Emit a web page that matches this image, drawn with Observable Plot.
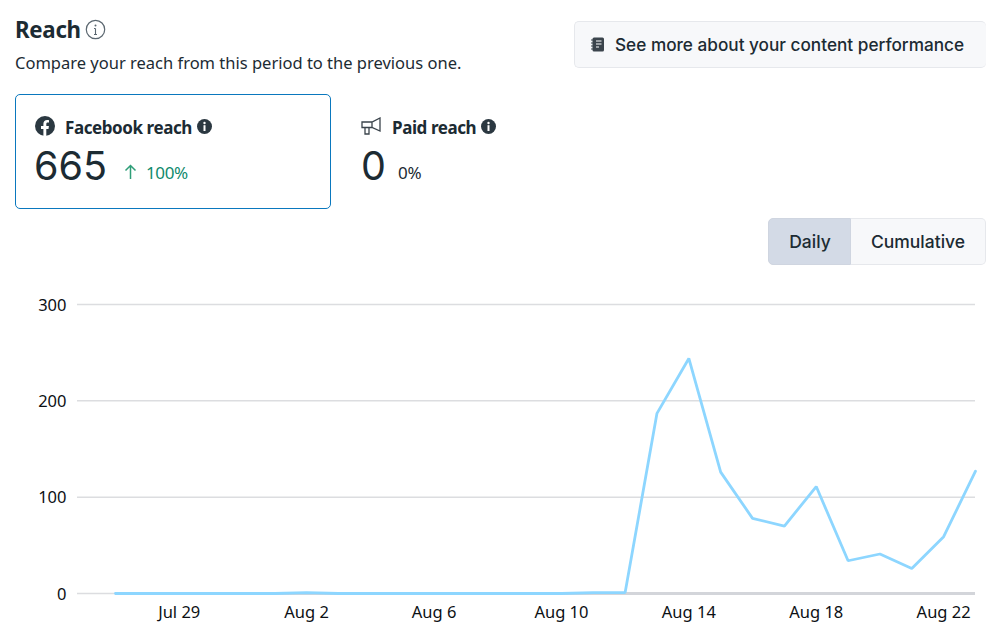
<!DOCTYPE html>
<html><head><meta charset="utf-8">
<script src="https://cdn.jsdelivr.net/npm/d3@7"></script>
<script src="https://cdn.jsdelivr.net/npm/@observablehq/plot@0.6"></script>
<style>
html,body{margin:0;padding:0;background:#fff;overflow:hidden}
body{width:1005px;height:641px;color:#1c2b33;font-family:"Noto Sans",sans-serif;position:relative}
#head{position:relative;height:270px;width:1005px}
#head>*{position:absolute;white-space:nowrap}
#chart{position:absolute;left:0;top:270px}
.ui{font-family:Inter,sans-serif;font-weight:500}
.btn{background:#f7f8fa;border:1px solid #e6e8ec;box-sizing:border-box}
</style></head><body>
<div id="head">
  <div style="left:15px;top:15px;font:700 22.300px/30px 'Noto Sans',sans-serif;letter-spacing:-.3px">Reach</div>
  <svg style="left:85px;top:19px" width="21" height="21" viewBox="0 0 21 21"><circle cx="10.5" cy="10.5" r="9.2" fill="none" stroke="#5b6770" stroke-width="1.2"/><circle cx="10.5" cy="6.6" r="1" fill="#5b6770"/><path d="M10.5 9.5v6M9 9.5h1.5M9 15.5h3" stroke="#5b6770" stroke-width="1.1" fill="none"/></svg>
  <div style="left:15px;top:51px;font:400 16.5px/24px 'Noto Sans',sans-serif">Compare your reach from this period to the previous one.</div>

  <div class="btn ui" style="left:574px;top:21px;width:412px;height:47px;border-right:0;border-radius:5px;font-size:17.200px;line-height:46px;padding-left:40px">See more about your content performance</div>
  <svg style="left:591px;top:37px" width="14" height="15" viewBox="0 0 14 15"><rect x="1.5" y="0.5" width="11.5" height="14" rx="1.5" fill="#3b444c"/><path d="M5 4h5.5M5 7h5.5M5 10h3" stroke="#fff" stroke-width="1"/><path d="M0 3h2.5M0 6h2.5M0 9h2.5M0 12h2.5" stroke="#3b444c" stroke-width="1.1"/></svg>

  <div style="left:15px;top:94px;width:316px;height:115px;box-sizing:border-box;border:1px solid #0a78be;border-bottom-width:1.5px;border-radius:5px"></div>
  <svg style="left:35px;top:116px" width="20" height="20" viewBox="0 0 20 20"><circle cx="10" cy="10" r="10" fill="#2b3841"/><path d="M8.4 20v-7H6v-3h2.4V7.8c0-2.500 1.500-3.800 3.700-3.800 1 0 1.900.2 1.900.2v2.400h-1.200c-1.200 0-1.500.7-1.500 1.500V10h2.600l-.4 3h-2.200v7z" fill="#fff"/></svg>
  <div style="left:65px;top:115px;font:700 17px/25px 'Noto Sans',sans-serif;letter-spacing:-.42px">Facebook reach</div>
  <svg style="left:197px;top:119px" width="15" height="15" viewBox="0 0 15 15"><circle cx="7.500" cy="7.500" r="7.500" fill="#2b3841"/><circle cx="7.500" cy="4" r="1.200" fill="#fff"/><rect x="6.500" y="6.200" width="2" height="5.800" fill="#fff"/></svg>
  <div style="left:34px;top:139px;font:400 39.500px/54px Inter,sans-serif">665</div>
  <svg style="left:123px;top:164px" width="15" height="16" viewBox="0 0 15 16"><path d="M7.500 15V1.500M2.500 6.500l5-5 5 5" fill="none" stroke="#2f9e78" stroke-width="1.500"/></svg>
  <div style="left:146px;top:161px;font:400 17px/24px 'Noto Sans',sans-serif;letter-spacing:-.35px;color:#0f8a6d">100%</div>

  <svg style="left:361px;top:117px" width="21" height="19" viewBox="0 0 21 19"><path d="M1 5h10l8-4v13l-8-3.500H1zM4 10.500V17h4v-6.500M11 5v5.500" fill="none" stroke="#3b444c" stroke-width="1.300"/></svg>
  <div style="left:392px;top:115px;font:700 17px/25px 'Noto Sans',sans-serif;letter-spacing:-.42px">Paid reach</div>
  <svg style="left:481px;top:119px" width="15" height="15" viewBox="0 0 15 15"><circle cx="7.500" cy="7.500" r="7.500" fill="#2b3841"/><circle cx="7.500" cy="4" r="1.200" fill="#fff"/><rect x="6.500" y="6.200" width="2" height="5.800" fill="#fff"/></svg>
  <div style="left:361px;top:139px;font:400 39.500px/54px Inter,sans-serif">0</div>
  <div style="left:398px;top:161px;font:400 17px/24px 'Noto Sans',sans-serif;letter-spacing:-.3px">0%</div>

  <div class="ui" style="left:768px;top:218px;width:83px;height:47px;box-sizing:border-box;background:#d3dae6;border:1px solid #cfd5e0;border-radius:5px 0 0 5px;font-size:17.500px;line-height:46px;text-align:center;padding-left:1px">Daily</div>
  <div class="btn ui" style="left:851px;top:218px;width:135px;height:47px;border-left:0;border-radius:0 5px 5px 0;font-size:17.500px;line-height:46px;text-align:center">Cumulative</div>
</div>
<div id="chart"></div>
<script>
const days = ["2023-07-27","2023-07-28","2023-07-29","2023-07-30","2023-07-31","2023-08-01","2023-08-02","2023-08-03","2023-08-04","2023-08-05","2023-08-06","2023-08-07","2023-08-08","2023-08-09","2023-08-10","2023-08-11","2023-08-12","2023-08-13","2023-08-14","2023-08-15","2023-08-16","2023-08-17","2023-08-18","2023-08-19","2023-08-20","2023-08-21","2023-08-22","2023-08-23"];
const reach = [0,0,0,0,0,0,1,0,0,0,0,0,0,0,0,1,1,187,244,126,78,70,111,34,41,26,59,127];
const xTicks = ["2023-07-29","2023-08-02","2023-08-06","2023-08-10","2023-08-14","2023-08-18","2023-08-22"];
const yTicks = [0,100,200,300];
const table = days.map((d,i)=>({date:new Date(d+"T00:00:00Z"),value:reach[i]}));
const plot = Plot.plot({
  width:1005,height:371,
  marginLeft:115,marginRight:30,marginTop:34,marginBottom:48,
  style:{fontFamily:"'Noto Sans',sans-serif",fontSize:"16.5px",color:"#0c1014",background:"#fff"},
  x:{type:"utc",domain:[table[0].date,table[table.length-1].date]},
  y:{domain:[0,300]},
  marks:[
    Plot.ruleY(yTicks,{stroke:"#dcdde0",strokeWidth:1.5,insetLeft:-38}),
    Plot.ruleY([0],{stroke:"#d3d5da",strokeWidth:3}),
    Plot.axisX({ticks:xTicks.map(d=>new Date(d+"T00:00:00Z")),tickFormat:d3.utcFormat("%b %-d"),tickSize:0,tickPadding:12.5,label:null,fontSize:16.5}),
    Plot.axisY({ticks:yTicks,tickSize:0,tickPadding:49,label:null,fontSize:16.5,dy:1}),
    Plot.line(table,{x:"date",y:"value",stroke:"#8dd6ff",strokeWidth:2.8,strokeLinejoin:"miter",curve:"linear"})
  ]
});
document.getElementById("chart").appendChild(plot);
</script>
</body></html>
